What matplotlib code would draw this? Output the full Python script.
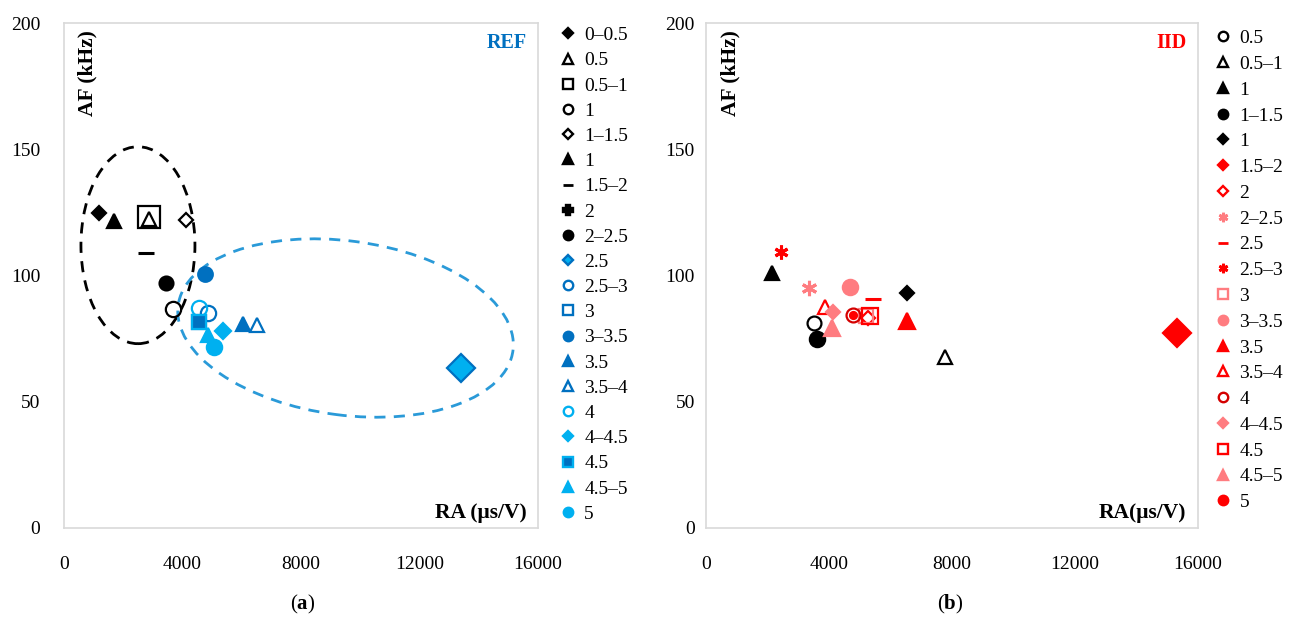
import numpy as np
import matplotlib
matplotlib.use("Agg")
import matplotlib.pyplot as plt
from matplotlib.lines import Line2D
from matplotlib.patches import Ellipse

plt.rcParams['font.family'] = ['Liberation Serif', 'DejaVu Serif']
plt.rcParams['mathtext.fontset'] = 'custom'
plt.rcParams['mathtext.rm'] = 'Liberation Serif'
plt.rcParams['mathtext.bf'] = 'Liberation Serif:bold'

nan = np.nan

# ---- panel (a): REF ----
labels_a = ["0\u20130.5", "0.5", "0.5\u20131", "1", "1\u20131.5", "1", "1.5\u20132", "2",
            "2\u20132.5", "2.5", "2.5\u20133", "3", "3\u20133.5", "3.5", "3.5\u20134", "4",
            "4\u20134.5", "4.5", "4.5\u20135", "5"]
ra_a = [1190, 2880, 2880, 3690, 4120, 1690, 2770, nan,
        3440, 13390, 4870, 4570, 4760, 6050, 6500, 4570,
        5380, 4570, 4870, 5060]
af_a = [124.9, 122.5, 123, 86.6, 122, 121.7, 109, nan,
        96.9, 63.2, 85.3, 81.7, 100.6, 80.8, 80.4, 87,
        78, 81.7, 76.4, 71.8]

# ---- panel (b): IID ----
labels_b = ["0.5", "0.5\u20131", "1", "1\u20131.5", "1", "1.5\u20132", "2", "2\u20132.5",
            "2.5", "2.5\u20133", "3", "3\u20133.5", "3.5", "3.5\u20134", "4", "4\u20134.5",
            "4.5", "4.5\u20135", "5"]
ra_b = [3510, 7770, 2150, 3610, 6540, 15320, 5270, 3350,
        5430, 2440, 5200, 4680, 6540, 3870, 4780, 4130,
        5330, 4100, 4780]
af_b = [81.2, 67.7, 101, 74.8, 93, 77.2, 83.2, 95,
        90.7, 109.3, 84, 95.4, 82, 87.5, 84.3, 85.5,
        84, 79.2, 84.3]

# styles: (marker, facecolor, edgecolor, size in plot)
K = "black"
DB = "#0070C0"
LB = "#00B0F0"
R = "#FF0000"
DR = "#D40000"
PK = "#FF7C80"
AST = (6, 2, 0)

styles_a = [("D", K, K, 7), ("^", "none", K, 10), ("s", "none", K, 16), ("o", "none", K, 11),
            ("D", "none", K, 7.5), ("^", K, K, 10), ("_", K, K, 11), ("P", K, K, 8),
            ("o", K, K, 10), ("D", LB, DB, 14), ("o", "none", DB, 11), ("s", "none", DB, 10),
            ("o", DB, DB, 10.5), ("^", DB, DB, 10.5), ("^", "none", DB, 10.5), ("o", "none", LB, 11),
            ("D", LB, LB, 8), ("s", DB, LB, 10), ("^", LB, LB, 10.5), ("o", LB, LB, 11)]

styles_b = [("o", "none", K, 10), ("^", "none", K, 10.5), ("^", K, K, 10), ("o", K, K, 11),
            ("D", K, K, 7), ("D", R, R, 14), ("D", "none", R, 7.5), (AST, PK, PK, 11),
            ("_", R, R, 11), (AST, R, R, 10), ("s", "none", PK, 10), ("o", PK, PK, 11),
            ("^", R, R, 11), ("^", "none", R, 10.5), ("o", "none", DR, 10), ("D", PK, PK, 7.5),
            ("s", "none", R, 11), ("^", PK, PK, 11), ("o", R, R, 5)]


def draw_panel(ax, labels, ra, af, styles, tag, tag_color, xlab, leg_x, leg_y, leg_sp, ytick_pad):
    handles = []
    for lab, x, y, (m, fc, ec, ms) in zip(labels, ra, af, styles):
        mew = 2.2 if m in ("_", AST) else 1.6
        ax.plot([x], [y], linestyle="none", marker=m, markersize=ms,
                markerfacecolor=fc, markeredgecolor=ec, markeredgewidth=mew)
        leg_ms = 5.2 if m == "D" else 6.8
        handles.append(Line2D([], [], linestyle="none", marker=m, markersize=leg_ms,
                              markerfacecolor=fc, markeredgecolor=ec,
                              markeredgewidth=2.0 if m in ("_", AST) else 1.7))
    ax.set_xlim(0, 16000)
    ax.set_ylim(0, 200)
    ax.set_xticks([0, 4000, 8000, 12000, 16000])
    ax.set_yticks([0, 50, 100, 150, 200])
    ax.tick_params(length=0, labelsize=14)
    ax.tick_params(axis="x", pad=20)
    ax.tick_params(axis="y", pad=ytick_pad)
    for s in ax.spines.values():
        s.set_color("#D9D9D9")
        s.set_linewidth(1.2)
    ax.text(0.05, 0.985, "AF (kHz)", transform=ax.transAxes, rotation=90,
            ha="center", va="top", fontsize=15.5, fontweight="bold")
    ax.text(0.977, 0.03, xlab, transform=ax.transAxes, ha="right", va="center",
            fontsize=15.5, fontweight="bold")
    ax.text(0.977, 0.96, tag, transform=ax.transAxes, ha="right", va="center",
            fontsize=14.5, fontweight="bold", color=tag_color)
    ax.legend(handles, labels, loc="upper left", bbox_to_anchor=(leg_x, leg_y),
              frameon=False, fontsize=14, handlelength=0.9, handletextpad=0.4,
              labelspacing=leg_sp, borderaxespad=0, borderpad=0)


fig = plt.figure(figsize=(13, 6.17), dpi=100)
ax1 = fig.add_axes([64 / 1300, 89 / 617, 474 / 1300, 505 / 617])
ax2 = fig.add_axes([706 / 1300, 89 / 617, 492 / 1300, 505 / 617])

draw_panel(ax1, labels_a, ra_a, af_a, styles_a, "REF", DB, "RA (\u03bcs/V)",
           1.044, 0.993, 0.39, 17)
draw_panel(ax2, labels_b, ra_b, af_b, styles_b, "IID", R, "RA(\u03bcs/V)",
           1.033, 0.987, 0.42, 8)

# dashed grouping ellipses on panel (a)
ax1.add_patch(Ellipse((0.156, 0.560), 0.2405, 0.390, angle=0, transform=ax1.transAxes,
                      fill=False, edgecolor="black", linewidth=2, linestyle=(0, (4, 3))))
ax1.add_patch(Ellipse((0.594, 0.396), 0.712, 0.345, angle=-7, transform=ax1.transAxes,
                      fill=False, edgecolor="#2A9AD8", linewidth=2, linestyle=(0, (4, 3))))

fig.text(303 / 1300, 0.021, r"($\mathbf{a}$)", ha="center", va="center", fontsize=15)
fig.text(950 / 1300, 0.021, r"($\mathbf{b}$)", ha="center", va="center", fontsize=15)

fig.savefig("out.png", dpi=100)
